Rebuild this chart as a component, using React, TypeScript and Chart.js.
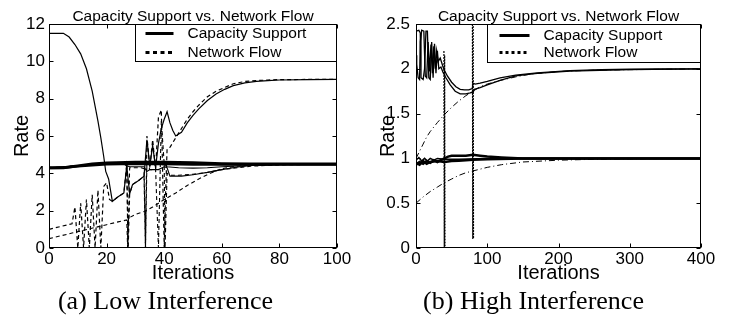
import React, { useEffect, useRef } from 'react';
import { Chart, registerables } from 'chart.js';
Chart.register(...registerables);

const TITLE = 'Capacity Support vs. Network Flow';
const LEGEND_LABELS = ['Capacity Support', 'Network Flow'];
const X_TITLE = 'Iterations';
const Y_TITLE = 'Rate';
const CAPTIONS = ['(a) Low Interference', '(b) High Interference'];

// ---------- (a) Low Interference ----------
const lowXTicks = [0, 20, 40, 60, 80, 100];
const lowYTicks = [0, 2, 4, 6, 8, 10, 12];

const lowCap1X = [0,5,7,9,11,13,15,16,17,18,19,19.7,20.7,22,24,26,27,28,29,31,33,34,35,36,37,38,39,40,41,42,43,44,46,48,50,52,55,58,61,64,68,72,76,80,90,100];
const lowCap1Y = [11.5,11.5,11.3,10.9,10.4,9.6,8.4,7.6,6.8,5.9,4.9,4.1,3.7,2.5,2.75,2.95,4.4,2.9,3.4,3.6,3.85,5.8,4.4,5.5,4.3,5.6,6.4,6.9,7.3,6.7,6.3,6.0,6.2,6.7,7.1,7.45,7.9,8.25,8.5,8.7,8.85,8.93,8.97,9.0,9.02,9.03];

const lowCap2X = [0,10,20,26,27,28,30,33,34,35,38,40,41,42,46,50,55,60,65,70,80,100];
const lowCap2Y = [4.3,4.4,4.5,4.5,4.4,4.35,4.35,4.35,4.1,4.2,4.2,4.35,4.3,3.85,3.85,3.92,4.05,4.2,4.33,4.42,4.47,4.5];

const lowCap3X = [0,20,38,40,41,45,50,55,60,70,80,100];
const lowCap3Y = [4.3,4.5,4.5,4.45,4.35,4.3,4.28,4.3,4.35,4.42,4.47,4.5];

const lowCap4X = [0,5,10,15,20,30,40,50,60,70,100];
const lowCap4Y = [4.3,4.3,4.4,4.5,4.55,4.6,4.6,4.57,4.52,4.5,4.5];

const lowCap5X = [0,5,10,20,30,40,50,70,100];
const lowCap5Y = [4.28,4.3,4.38,4.48,4.52,4.5,4.47,4.47,4.47];

const lowFlow1X = [0,8,9,10,11,12,13,14,15,16,17,18,19,20,21,22,24,26,27,27.5,28,29,31,33,33.5,34,35,36,37,38,39,40,40.5,41,42,44,46,48,50,52,55,58,61,64,68,72,76,80,90,100];
const lowFlow1Y = [1.0,1.3,2.2,0,2.4,0,2.6,0,2.85,0,3.1,0,3.3,3.5,2.6,2.5,2.75,2.95,4.5,0,2.9,3.4,3.6,3.85,0,6.0,4.3,5.8,4.2,7.0,7.4,0,3.0,5.3,5.4,5.9,6.4,6.9,7.3,7.65,8.1,8.4,8.6,8.8,8.92,8.97,9.0,9.02,9.03,9.03];

const lowFlow2X = [0,8,12,16,20,24,27,27.3,27.6,30,33,36,39,41,44,48,52,56,60,65,70,80,100];
const lowFlow2Y = [0.5,0.8,0.95,1.1,1.25,1.4,1.5,0,1.6,1.8,1.95,2.2,2.5,2.68,2.95,3.35,3.7,4.0,4.25,4.38,4.44,4.48,4.5];

const lowFlow3X = [0,10,20,26,27,27.4,28,32,33,33.5,34,35,36,37,38,39,40,40.3,41,42,45,50,55,60,70,80,100];
const lowFlow3Y = [4.3,4.4,4.5,4.5,4.4,0,4.3,4.3,4.25,0,4.6,4.2,4.2,4.25,0,6.8,4.5,0,4.0,3.9,3.9,3.95,4.05,4.2,4.38,4.45,4.5];

// ---------- (b) High Interference ----------
const highXTicks = [0, 100, 200, 300, 400];
const highYTicks = [0, 0.5, 1, 1.5, 2, 2.5];

const highCap1X = [0,1,3,5,6,8,11,13,15,17,19,21,23,25,27,29,31,34,38,40,44,50,56,62,68,74,79,80,83,90,100,118,140,170,216,260,300,350,400];
const highCap1Y = [2.15,2.05,1.9,1.88,2.3,2.43,2.42,1.92,1.9,2.3,1.97,2.27,1.95,2.25,2.0,2.2,2.08,2.12,2.02,1.98,1.92,1.85,1.8,1.77,1.765,1.765,1.78,1.84,1.83,1.84,1.86,1.9,1.93,1.955,1.98,1.99,1.995,1.998,2.0];

const highCap2X = [0,4,6,7,10,12,14,16,18,20,22,24,26,28,30,32,35,38,42,48,55,62,70,76,80,82,90,100,118,140,170,216,300,400];
const highCap2Y = [2.42,2.43,2.4,1.9,1.88,2.0,2.42,2.42,1.9,1.88,2.3,1.9,2.28,1.95,2.2,2.0,2.02,1.96,1.9,1.82,1.75,1.72,1.72,1.73,1.74,1.77,1.79,1.82,1.87,1.92,1.95,1.975,1.99,2.0];

const highCap3X = [0,5,10,15,20,25,30,35,40,45,50,60,70,80,90,100,120,150,200,400];
const highCap3Y = [0.93,0.96,0.94,0.97,0.95,0.98,0.96,0.98,1.0,1.02,1.03,1.03,1.03,1.04,1.03,1.02,1.01,1.0,1.0,1.0];

const highCap4X = [0,5,10,15,20,30,40,50,60,80,100,150,400];
const highCap4Y = [0.95,0.93,0.97,0.94,0.96,0.97,0.96,0.97,0.975,0.985,0.99,1.0,1.0];

const highCap5X = [0,4,8,12,16,20,25,30,40,60,100,400];
const highCap5Y = [0.98,1.01,0.97,1.0,0.97,1.0,0.98,1.0,0.99,0.99,1.0,1.0];

const highFlow1X = [0,5,10,15,20,30,40,50,60,70,80,90,100,118,140,160,200,250,300,400];
const highFlow1Y = [1.0,1.08,1.16,1.24,1.3,1.4,1.49,1.57,1.64,1.7,1.75,1.8,1.83,1.87,1.91,1.94,1.97,1.985,1.99,2.0];

const highFlow2X = [0,10,20,30,40,50,60,70,80,90,100,120,150,200,250,300,400];
const highFlow2Y = [0.5,0.57,0.63,0.68,0.73,0.77,0.81,0.84,0.86,0.88,0.9,0.93,0.96,0.98,0.99,0.995,1.0];

const highSpike1X = [39.2,39.7,40.2,40.7];
const highSpike1Y = [2.2,0,2.15,0.02];
const highSpike2X = [79.2,79.7,80.2,80.7];
const highSpike2Y = [2.5,0.1,2.5,0.1];

// ---------- config ----------
const FONT = '"Liberation Sans", Arial, Helvetica, sans-serif';

type Series = { x: number[]; y: number[]; w: number; dash: number[] };

const LOW_DASH = [4, 3];
const HIGH_DASH = [6, 3, 1, 3];
const SPIKE_DASH = [2, 1];

const lowSeries: Series[] = [
  { x: lowCap1X, y: lowCap1Y, w: 1.2, dash: [] },
  { x: lowFlow1X, y: lowFlow1Y, w: 1.2, dash: LOW_DASH },
  { x: lowCap4X, y: lowCap4Y, w: 3, dash: [] },
  { x: lowCap5X, y: lowCap5Y, w: 2.5, dash: [] },
  { x: lowCap2X, y: lowCap2Y, w: 1.1, dash: [] },
  { x: lowCap3X, y: lowCap3Y, w: 1.1, dash: [] },
  { x: lowFlow2X, y: lowFlow2Y, w: 1.1, dash: LOW_DASH },
  { x: lowFlow3X, y: lowFlow3Y, w: 1.1, dash: LOW_DASH },
];

const highSeries: Series[] = [
  { x: highCap1X, y: highCap1Y, w: 1.3, dash: [] },
  { x: highCap2X, y: highCap2Y, w: 1.3, dash: [] },
  { x: highCap3X, y: highCap3Y, w: 2.5, dash: [] },
  { x: highCap4X, y: highCap4Y, w: 2.5, dash: [] },
  { x: highCap5X, y: highCap5Y, w: 1.5, dash: [] },
  { x: highFlow1X, y: highFlow1Y, w: 1, dash: HIGH_DASH },
  { x: highFlow2X, y: highFlow2Y, w: 1, dash: HIGH_DASH },
  { x: highSpike1X, y: highSpike1Y, w: 1.2, dash: SPIKE_DASH },
  { x: highSpike2X, y: highSpike2Y, w: 1.2, dash: SPIKE_DASH },
];

type LegendCfg = { w: number; h: number; sx0: number; sx1: number; tx: number; rows: number[]; dash: number[] };

type PanelCfg = {
  series: Series[];
  xTicks: number[];
  yTicks: number[];
  yWidth: number;
  padRight: number;
  yTickPad: number;
  legend: LegendCfg;
};

const lowCfg: PanelCfg = {
  series: lowSeries,
  xTicks: lowXTicks,
  yTicks: lowYTicks,
  yWidth: 49,
  padRight: 29,
  yTickPad: 4,
  legend: { w: 202, h: 37, sx0: 10, sx1: 38, tx: 52, rows: [9, 28], dash: [4, 3.5] },
};

const highCfg: PanelCfg = {
  series: highSeries,
  xTicks: highXTicks,
  yTicks: highYTicks,
  yWidth: 50,
  padRight: 31,
  yTickPad: 6,
  legend: { w: 214, h: 38, sx0: 12, sx1: 42, tx: 56, rows: [11, 28], dash: [3, 3] },
};

function framePlugin(lg: LegendCfg) {
  return {
    id: 'frameAndLegend',
    afterDraw(chart: any) {
      const { ctx, chartArea: a, scales } = chart;
      const L = Math.round(a.left) + 0.5;
      const R = Math.round(a.right) - 0.5;
      const T = Math.round(a.top) + 0.5;
      const B = Math.round(a.bottom) - 0.5;
      ctx.save();
      ctx.setLineDash([]);
      ctx.strokeStyle = '#000';
      ctx.lineWidth = 1;
      ctx.beginPath();
      for (const t of scales.x.ticks) {
        const p = Math.round(scales.x.getPixelForValue(t.value)) + 0.5;
        ctx.moveTo(p, B); ctx.lineTo(p, B - 4);
        ctx.moveTo(p, T); ctx.lineTo(p, T + 4);
      }
      for (const t of scales.y.ticks) {
        const p = Math.round(scales.y.getPixelForValue(t.value)) + 0.5;
        ctx.moveTo(L, p); ctx.lineTo(L + 4, p);
        ctx.moveTo(R, p); ctx.lineTo(R - 4, p);
      }
      ctx.stroke();
      ctx.strokeRect(L, T, R - L, B - T);

      // legend box
      const bx = Math.round(a.right - lg.w) + 0.5;
      const by = T;
      ctx.fillStyle = '#fff';
      ctx.fillRect(bx, by, R - bx, lg.h);
      ctx.strokeRect(bx, by, R - bx, lg.h);
      ctx.lineWidth = 3;
      ctx.beginPath();
      ctx.moveTo(bx + lg.sx0, by + lg.rows[0]);
      ctx.lineTo(bx + lg.sx1, by + lg.rows[0]);
      ctx.stroke();
      ctx.setLineDash(lg.dash);
      ctx.beginPath();
      ctx.moveTo(bx + lg.sx0, by + lg.rows[1]);
      ctx.lineTo(bx + lg.sx1, by + lg.rows[1]);
      ctx.stroke();
      ctx.setLineDash([]);
      ctx.fillStyle = '#000';
      ctx.font = '15.5px ' + FONT;
      ctx.textAlign = 'left';
      ctx.textBaseline = 'middle';
      ctx.fillText(LEGEND_LABELS[0], bx + lg.tx, by + lg.rows[0]);
      ctx.fillText(LEGEND_LABELS[1], bx + lg.tx, by + lg.rows[1]);

      // title
      ctx.textAlign = 'center';
      ctx.textBaseline = 'alphabetic';
      ctx.fillText(TITLE, (a.left + a.right) / 2, a.top - 3);
      ctx.restore();
    },
  };
}

function buildConfig(cfg: PanelCfg): any {
  const xMin = cfg.xTicks[0];
  const xMax = cfg.xTicks[cfg.xTicks.length - 1];
  const yMin = cfg.yTicks[0];
  const yMax = cfg.yTicks[cfg.yTicks.length - 1];
  return {
    type: 'line',
    data: {
      datasets: cfg.series.map((s) => ({
        data: s.x.map((x, i) => ({ x, y: s.y[i] })),
        borderColor: '#000',
        borderWidth: s.w,
        borderDash: s.dash,
        pointRadius: 0,
        pointHoverRadius: 0,
        fill: false,
        tension: 0,
      })),
    },
    options: {
      responsive: false,
      animation: false,
      events: [],
      parsing: true,
      layout: { padding: { top: 24, right: cfg.padRight, left: 0, bottom: 0 } },
      plugins: { legend: { display: false }, tooltip: { enabled: false }, title: { display: false } },
      scales: {
        x: {
          type: 'linear',
          min: xMin,
          max: xMax,
          afterBuildTicks: (axis: any) => { axis.ticks = cfg.xTicks.map((v) => ({ value: v })); },
          afterFit: (axis: any) => { axis.height = 42; },
          grid: { display: false, drawTicks: false },
          border: { display: false },
          ticks: {
            padding: 1,
            color: '#000',
            font: { size: 17, family: FONT },
            maxRotation: 0,
            autoSkip: false,
            callback: (v: number) => String(v),
          },
          title: {
            display: true,
            text: X_TITLE,
            color: '#000',
            font: { size: 20, family: FONT },
            padding: { top: 0, bottom: 5 },
          },
        },
        y: {
          type: 'linear',
          min: yMin,
          max: yMax,
          afterBuildTicks: (axis: any) => { axis.ticks = cfg.yTicks.map((v) => ({ value: v })); },
          afterFit: (axis: any) => { axis.width = cfg.yWidth; },
          grid: { display: false, drawTicks: false },
          border: { display: false },
          ticks: {
            padding: cfg.yTickPad,
            color: '#000',
            font: { size: 17, family: FONT },
            autoSkip: false,
            callback: (v: number) => String(v),
          },
          title: {
            display: true,
            text: Y_TITLE,
            color: '#000',
            font: { size: 20, family: FONT },
            padding: { top: 10, bottom: 0 },
          },
        },
      },
    },
    plugins: [framePlugin(cfg.legend)],
  };
}

function ChartPanel({ cfg }: { cfg: PanelCfg }) {
  const ref = useRef<HTMLCanvasElement>(null);
  useEffect(() => {
    const chart = new Chart(ref.current as HTMLCanvasElement, buildConfig(cfg));
    return () => chart.destroy();
  }, [cfg]);
  return <canvas ref={ref} width={366} height={290} style={{ display: 'block', width: 366, height: 290 }} />;
}

function captionStyle(cx: number): React.CSSProperties {
  return {
    position: 'absolute',
    left: cx,
    top: 288,
    transform: 'translateX(-50%)',
    fontFamily: '"Liberation Serif", "Times New Roman", serif',
    fontSize: 26,
    lineHeight: '26px',
    whiteSpace: 'nowrap',
    color: '#000',
  };
}

export default function App() {
  return (
    <div style={{ position: 'fixed', left: 0, top: 0, width: 732, height: 318, background: '#fff', overflow: 'hidden' }}>
      <div style={{ position: 'absolute', left: 0, top: 0 }}>
        <ChartPanel cfg={lowCfg} />
      </div>
      <div style={{ position: 'absolute', left: 366, top: 0 }}>
        <ChartPanel cfg={highCfg} />
      </div>
      <div style={captionStyle(165.5)}>{CAPTIONS[0]}</div>
      <div style={captionStyle(533.5)}>{CAPTIONS[1]}</div>
    </div>
  );
}
